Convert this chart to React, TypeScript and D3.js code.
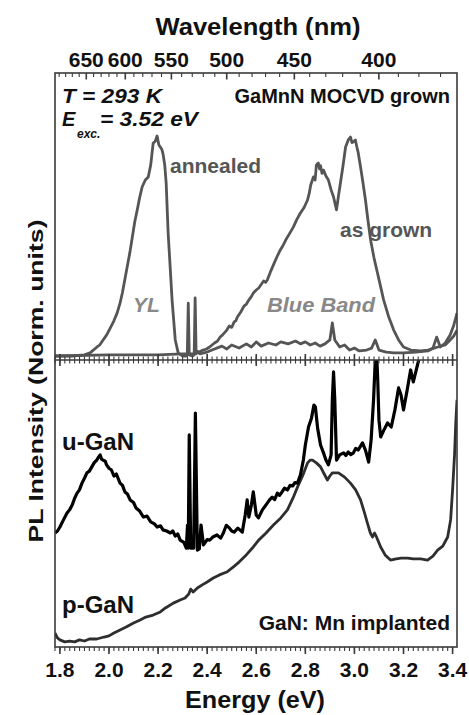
import React from 'react';
import * as d3 from 'd3';

// ---------- data (energy in eV, normalised PL intensity) ----------
const annealedE = [1.78, 1.85, 1.9, 1.923, 1.95, 1.962, 1.976, 1.99, 2.005, 2.02, 2.033, 2.045, 2.055, 2.065, 2.074, 2.085, 2.095, 2.105, 2.115, 2.125, 2.135, 2.148, 2.16, 2.17, 2.18, 2.188, 2.196, 2.203, 2.209, 2.215, 2.22, 2.227, 2.233, 2.241, 2.25, 2.257, 2.27, 2.282, 2.3, 2.315, 2.319, 2.323, 2.327, 2.34, 2.347, 2.351, 2.355, 2.362, 2.37, 2.4, 2.43, 2.46, 2.48, 2.5, 2.53, 2.56, 2.58, 2.6, 2.62, 2.65, 2.68, 2.7, 2.73, 2.76, 2.78, 2.8, 2.82, 2.84, 2.86, 2.88, 2.9, 2.91, 2.92, 2.94, 2.96, 2.98, 3.0, 3.02, 3.05, 3.07, 3.085, 3.1, 3.13, 3.16, 3.2, 3.25, 3.3, 3.32, 3.335, 3.35, 3.37, 3.39, 3.405, 3.418];
const annealedI = [0, 0, 0.005, 0.014, 0.04, 0.05, 0.073, 0.095, 0.127, 0.16, 0.195, 0.24, 0.29, 0.35, 0.405, 0.47, 0.54, 0.61, 0.664, 0.72, 0.768, 0.8, 0.814, 0.868, 0.968, 0.975, 1.0, 0.96, 0.95, 0.94, 0.92, 0.87, 0.786, 0.56, 0.39, 0.255, 0.073, 0.014, 0, 0, 0.005, 0.24, 0.005, 0, 0.005, 0.264, 0.01, 0.02, 0.01, 0.018, 0.032, 0.045, 0.032, 0.05, 0.036, 0.055, 0.041, 0.064, 0.045, 0.059, 0.05, 0.064, 0.055, 0.068, 0.055, 0.064, 0.05, 0.059, 0.045, 0.055, 0.073, 0.15, 0.073, 0.041, 0.05, 0.027, 0.036, 0.023, 0.027, 0.036, 0.073, 0.027, 0.018, 0.014, 0.014, 0.018, 0.023, 0.036, 0.086, 0.041, 0.059, 0.095, 0.14, 0.195];

const asGrownE = [1.78, 2.0, 2.2, 2.3, 2.35, 2.384, 2.397, 2.41, 2.42, 2.43, 2.442, 2.453, 2.462, 2.47, 2.48, 2.49, 2.5, 2.51, 2.517, 2.523, 2.537, 2.55, 2.56, 2.57, 2.58, 2.588, 2.6, 2.61, 2.62, 2.63, 2.638, 2.645, 2.657, 2.67, 2.684, 2.698, 2.708, 2.72, 2.735, 2.751, 2.765, 2.78, 2.795, 2.809, 2.816, 2.822, 2.833, 2.84, 2.845, 2.853, 2.858, 2.862, 2.868, 2.874, 2.884, 2.894, 2.905, 2.915, 2.927, 2.935, 2.943, 2.954, 2.964, 2.975, 2.984, 2.99, 2.995, 3.004, 3.01, 3.015, 3.025, 3.035, 3.045, 3.055, 3.066, 3.08, 3.094, 3.107, 3.119, 3.14, 3.16, 3.18, 3.2, 3.23, 3.27, 3.3, 3.34, 3.37, 3.39, 3.405, 3.418];
const asGrownI = [0, 0.005, 0.005, 0.01, 0.01, 0.027, 0.032, 0.041, 0.05, 0.059, 0.068, 0.086, 0.095, 0.105, 0.118, 0.136, 0.13, 0.155, 0.16, 0.177, 0.2, 0.227, 0.236, 0.255, 0.27, 0.286, 0.3, 0.309, 0.325, 0.341, 0.335, 0.345, 0.38, 0.414, 0.45, 0.482, 0.5, 0.527, 0.555, 0.586, 0.62, 0.65, 0.675, 0.709, 0.74, 0.777, 0.814, 0.8, 0.868, 0.877, 0.85, 0.865, 0.83, 0.845, 0.818, 0.8, 0.755, 0.723, 0.664, 0.727, 0.786, 0.868, 0.95, 0.982, 0.995, 0.97, 0.973, 0.982, 0.95, 0.927, 0.859, 0.786, 0.709, 0.618, 0.527, 0.445, 0.377, 0.314, 0.255, 0.177, 0.118, 0.073, 0.041, 0.027, 0.023, 0.027, 0.041, 0.05, 0.073, 0.091, 0.118];

const uGaNE = [1.78, 1.79, 1.8, 1.815, 1.829, 1.84, 1.85, 1.86, 1.87, 1.88, 1.89, 1.9, 1.91, 1.92, 1.93, 1.94, 1.95, 1.958, 1.964, 1.97, 1.975, 1.985, 1.99, 2.0, 2.01, 2.02, 2.03, 2.045, 2.055, 2.065, 2.075, 2.086, 2.1, 2.11, 2.125, 2.14, 2.155, 2.17, 2.185, 2.196, 2.21, 2.22, 2.235, 2.25, 2.26, 2.27, 2.28, 2.29, 2.305, 2.315, 2.32, 2.323, 2.327, 2.333, 2.345, 2.352, 2.36, 2.368, 2.375, 2.385, 2.4, 2.41, 2.425, 2.44, 2.455, 2.466, 2.478, 2.49, 2.5, 2.51, 2.525, 2.543, 2.555, 2.563, 2.57, 2.58, 2.588, 2.6, 2.609, 2.625, 2.645, 2.655, 2.665, 2.675, 2.686, 2.695, 2.705, 2.715, 2.727, 2.738, 2.748, 2.758, 2.768, 2.78, 2.792, 2.8, 2.813, 2.825, 2.835, 2.841, 2.85, 2.862, 2.874, 2.884, 2.894, 2.905, 2.91, 2.915, 2.92, 2.927, 2.94, 2.956, 2.965, 2.975, 2.985, 2.996, 3.005, 3.015, 3.033, 3.045, 3.058, 3.068, 3.078, 3.085, 3.09, 3.095, 3.1, 3.107, 3.12, 3.135, 3.15, 3.165, 3.18, 3.19, 3.2, 3.215, 3.229, 3.24, 3.25, 3.262, 3.28, 3.3, 3.35, 3.418];
const uGaNI = [0.393, 0.4, 0.414, 0.44, 0.463, 0.475, 0.491, 0.515, 0.533, 0.545, 0.568, 0.585, 0.604, 0.61, 0.625, 0.64, 0.649, 0.66, 0.667, 0.652, 0.649, 0.645, 0.632, 0.62, 0.614, 0.593, 0.6, 0.568, 0.56, 0.537, 0.53, 0.509, 0.5, 0.481, 0.47, 0.449, 0.452, 0.432, 0.425, 0.414, 0.418, 0.404, 0.4, 0.393, 0.4, 0.382, 0.39, 0.368, 0.36, 0.34, 0.421, 0.34, 0.737, 0.34, 0.34, 0.814, 0.333, 0.337, 0.421, 0.351, 0.37, 0.368, 0.38, 0.386, 0.375, 0.393, 0.42, 0.411, 0.4, 0.396, 0.41, 0.396, 0.456, 0.509, 0.449, 0.491, 0.537, 0.456, 0.446, 0.474, 0.498, 0.51, 0.519, 0.51, 0.533, 0.525, 0.537, 0.55, 0.544, 0.56, 0.558, 0.57, 0.568, 0.596, 0.649, 0.702, 0.765, 0.796, 0.842, 0.835, 0.761, 0.702, 0.674, 0.649, 0.632, 0.667, 0.86, 0.958, 0.86, 0.649, 0.667, 0.674, 0.665, 0.677, 0.668, 0.674, 0.69, 0.684, 0.709, 0.684, 0.642, 0.719, 0.86, 1.0, 1.035, 0.93, 0.789, 0.73, 0.754, 0.779, 0.765, 0.825, 0.902, 0.877, 0.825, 0.895, 0.965, 0.923, 0.958, 1.0, 1.07, 1.15, 1.3, 1.5];

const pGaNE = [1.78, 1.79, 1.8, 1.82, 1.84, 1.86, 1.88, 1.9, 1.92, 1.95, 1.98, 2.0, 2.02, 2.045, 2.07, 2.1, 2.127, 2.15, 2.18, 2.209, 2.23, 2.262, 2.29, 2.31, 2.325, 2.333, 2.343, 2.36, 2.38, 2.4, 2.425, 2.45, 2.48, 2.507, 2.53, 2.555, 2.588, 2.61, 2.64, 2.67, 2.7, 2.727, 2.75, 2.768, 2.79, 2.809, 2.82, 2.829, 2.845, 2.862, 2.877, 2.89, 2.9, 2.91, 2.935, 2.96, 2.984, 3.005, 3.025, 3.04, 3.053, 3.065, 3.074, 3.082, 3.09, 3.107, 3.125, 3.147, 3.17, 3.19, 3.217, 3.24, 3.27, 3.298, 3.32, 3.339, 3.36, 3.38, 3.392, 3.4, 3.408, 3.413, 3.418];
const pGaNI = [0.042, 0.025, 0.018, 0.011, 0.014, 0.011, 0.018, 0.014, 0.021, 0.021, 0.028, 0.032, 0.042, 0.053, 0.063, 0.077, 0.088, 0.098, 0.105, 0.116, 0.13, 0.147, 0.158, 0.165, 0.179, 0.196, 0.186, 0.2, 0.211, 0.221, 0.235, 0.246, 0.256, 0.274, 0.291, 0.312, 0.344, 0.368, 0.393, 0.421, 0.446, 0.474, 0.516, 0.554, 0.596, 0.639, 0.649, 0.649, 0.639, 0.625, 0.6, 0.579, 0.593, 0.604, 0.604, 0.589, 0.568, 0.544, 0.509, 0.467, 0.428, 0.393, 0.379, 0.393, 0.379, 0.344, 0.316, 0.298, 0.302, 0.305, 0.305, 0.302, 0.302, 0.298, 0.312, 0.333, 0.347, 0.379, 0.439, 0.544, 0.667, 0.779, 0.86];

const energyTicks = [1.8, 2.0, 2.2, 2.4, 2.6, 2.8, 3.0, 3.2, 3.4];
const energyTickLabels = ['1.8', '2.0', '2.2', '2.4', '2.6', '2.8', '3.0', '3.2', '3.4'];
const wavelengthTicks = [650, 600, 550, 500, 450, 400];
const wavelengthMinor = [690, 680, 670, 660, 640, 630, 620, 610, 590, 580, 570, 560, 540, 530, 520, 510, 490, 480, 470, 460, 440, 430, 420, 410, 390, 380, 370];

const HC = 1239.84;
const FONT = '"Liberation Sans", Arial, Helvetica, sans-serif';

export default function App() {
  const W = 469, H = 715;
  const L = 55, R = 457, T = 73, B = 647, MID = 360;

  const x = d3.scaleLinear().domain([1.78, 3.418]).range([L, R]);
  const yTop = d3.scaleLinear().domain([0, 1]).range([356, 136]);
  const yBot = d3.scaleLinear().domain([0, 1]).range([645, 360]);

  const mk = (es: number[], is: number[], ys: d3.ScaleLinear<number, number>) =>
    d3.line<number>().x((_, i) => x(es[i])).y((d) => ys(d)).curve(d3.curveLinear)(is) || '';

  const minorE = d3.range(1.78, 3.42, 0.02).map((v) => Math.round(v * 100) / 100).filter((v) => v >= 1.78 && v <= 3.418);

  const frame = '#3a3a3a';

  return (
    <svg width={W} height={H} style={{ position: 'absolute', left: 0, top: 0, background: '#fff' }} fontFamily={FONT}>
      <rect x={0} y={0} width={W} height={H} fill="#fff" />
      <defs>
        <clipPath id="clipTop"><rect x={L} y={T} width={R - L} height={MID - T} /></clipPath>
        <clipPath id="clipBot"><rect x={L} y={MID} width={R - L} height={B - MID} /></clipPath>
      </defs>

      {/* curves */}
      <g clipPath="url(#clipTop)" fill="none" strokeLinejoin="round">
        <path d={mk(asGrownE, asGrownI, yTop)} stroke="#555" strokeWidth={2.8} />
        <path d={mk(annealedE, annealedI, yTop)} stroke="#555" strokeWidth={2.8} />
      </g>
      <g clipPath="url(#clipBot)" fill="none" strokeLinejoin="round">
        <path d={mk(pGaNE, pGaNI, yBot)} stroke="#2e2e2e" strokeWidth={2.8} />
        <path d={mk(uGaNE, uGaNI, yBot)} stroke="#000" strokeWidth={3.2} />
      </g>

      {/* frame */}
      <rect x={L} y={T} width={R - L} height={B - T} fill="none" stroke={frame} strokeWidth={1.6} />
      <line x1={L} x2={R} y1={MID} y2={MID} stroke={frame} strokeWidth={1.6} />

      {/* bottom axis ticks */}
      {minorE.map((e) => (
        <line key={'bm' + e} x1={x(e)} x2={x(e)} y1={B} y2={B + 4} stroke={frame} strokeWidth={1.1} />
      ))}
      {energyTicks.map((e) => (
        <line key={'bM' + e} x1={x(e)} x2={x(e)} y1={B} y2={B + 7} stroke={frame} strokeWidth={1.6} />
      ))}
      {/* middle divider ticks */}
      {minorE.map((e) => (
        <line key={'mm' + e} x1={x(e)} x2={x(e)} y1={MID - 3.5} y2={MID + 3.5} stroke={frame} strokeWidth={1.1} />
      ))}
      {energyTicks.map((e) => (
        <line key={'mM' + e} x1={x(e)} x2={x(e)} y1={MID - 6} y2={MID + 6} stroke={frame} strokeWidth={1.6} />
      ))}
      {/* top wavelength ticks */}
      {wavelengthMinor.map((w) => (
        <line key={'tm' + w} x1={x(HC / w)} x2={x(HC / w)} y1={T} y2={T + 4} stroke={frame} strokeWidth={1.1} />
      ))}
      {wavelengthTicks.map((w) => (
        <line key={'tM' + w} x1={x(HC / w)} x2={x(HC / w)} y1={T} y2={T + 6.5} stroke={frame} strokeWidth={1.6} />
      ))}

      {/* tick labels */}
      {energyTicks.map((e, i) => (
        <text key={'bl' + e} x={x(e)} y={677} textAnchor="middle" fontSize={21} fontWeight="bold" fill="#111">{energyTickLabels[i]}</text>
      ))}
      {wavelengthTicks.map((w) => (
        <text key={'tl' + w} x={x(HC / w)} y={67} textAnchor="middle" fontSize={21} fontWeight="bold" fill="#111">{String(w)}</text>
      ))}

      {/* axis titles */}
      <text x={258} y={35} textAnchor="middle" fontSize={24} fontWeight="bold" fill="#111" textLength={205} lengthAdjust="spacingAndGlyphs">Wavelength (nm)</text>
      <text x={255} y={708} textAnchor="middle" fontSize={23} fontWeight="bold" fill="#111" textLength={140} lengthAdjust="spacingAndGlyphs">Energy (eV)</text>
      <text transform="translate(43,381) rotate(-90)" textAnchor="middle" fontSize={20} fontWeight="bold" fill="#111" textLength={323} lengthAdjust="spacingAndGlyphs">PL Intensity (Norm. units)</text>

      {/* annotations */}
      <text x={62} y={103} fontSize={20} fontWeight="bold" fontStyle="italic" fill="#111" textLength={100} lengthAdjust="spacingAndGlyphs">T = 293 K</text>
      <text x={450} y={103} textAnchor="end" fontSize={20} fontWeight="bold" fill="#111">GaMnN MOCVD grown</text>
      <text x={62} y={126} fontSize={20} fontWeight="bold" fontStyle="italic" fill="#111">E</text>
      <text x={77} y={138} fontSize={12} fontWeight="bold" fontStyle="italic" fill="#111">exc.</text>
      <text x={100} y={126} fontSize={20} fontWeight="bold" fontStyle="italic" fill="#111" textLength={98} lengthAdjust="spacingAndGlyphs">= 3.52 eV</text>

      <text x={170} y={173} fontSize={21} fontWeight="bold" fill="#555">annealed</text>
      <text x={340} y={237} fontSize={21} fontWeight="bold" fill="#555">as grown</text>
      <text x={133} y={312} fontSize={21} fontWeight="bold" fontStyle="italic" fill="#888">YL</text>
      <text x={267} y={312} fontSize={21} fontWeight="bold" fontStyle="italic" fill="#888" textLength={108} lengthAdjust="spacingAndGlyphs">Blue Band</text>

      <text x={62} y={450} fontSize={24} fontWeight="bold" fill="#111">u-GaN</text>
      <text x={62} y={613} fontSize={24} fontWeight="bold" fill="#111">p-GaN</text>
      <text x={450} y={630} textAnchor="end" fontSize={21} fontWeight="bold" fill="#111">GaN: Mn implanted</text>
    </svg>
  );
}
